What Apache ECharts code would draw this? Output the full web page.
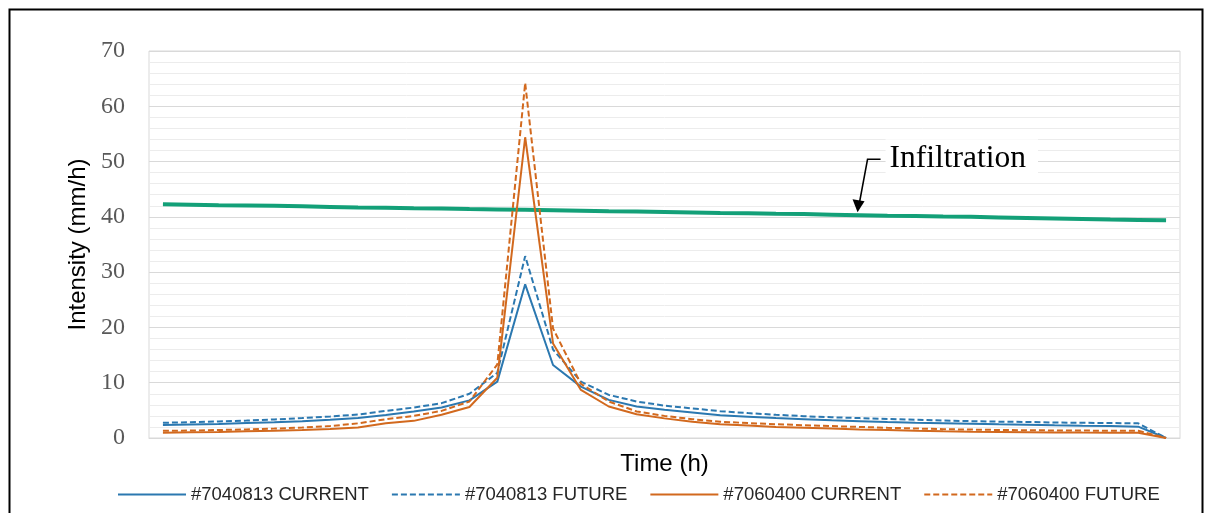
<!DOCTYPE html>
<html>
<head>
<meta charset="utf-8">
<script src="https://cdn.jsdelivr.net/npm/echarts@6/dist/echarts.min.js"></script>
<style>
  html, body { margin: 0; padding: 0; background: #fff; }
  #chart { width: 1209px; height: 513px; }
</style>
</head>
<body>
<div id="chart"></div>
<script>
// time steps (no labels shown on the axis)
const timeSteps = ["0","1","2","3","4","5","6","7","8","9","10","11","12","13","14","15","16","17","18",
  "19","20","21","22","23","24","25","26","27","28","29","30","31","32","33","34","35","36"];

const current7040813 = [2.35, 2.45, 2.55, 2.7, 2.85, 3.05, 3.3, 3.6, 4.15, 4.8, 5.5, 6.8, 10.2, 27.8,
  13.2, 9.3, 6.9, 5.7, 5.1, 4.6, 4.1, 3.85, 3.6, 3.4, 3.2, 3.05, 2.9, 2.78, 2.68, 2.58, 2.48, 2.4,
  2.3, 2.22, 2.15, 2.05, 0];
const future7040813 = [2.75, 2.85, 3.0, 3.15, 3.35, 3.6, 3.9, 4.25, 4.9, 5.5, 6.3, 8.0, 11.8, 32.9,
  16.0, 10.2, 7.8, 6.6, 5.85, 5.35, 4.85, 4.5, 4.2, 3.95, 3.75, 3.6, 3.45, 3.3, 3.15, 3.05, 2.95, 2.9,
  2.8, 2.75, 2.7, 2.65, 0];
const current7060400 = [0.96, 1.05, 1.1, 1.2, 1.3, 1.45, 1.65, 1.9, 2.65, 3.1, 4.2, 5.6, 10.9, 54.4,
  17.1, 8.7, 5.7, 4.3, 3.55, 2.95, 2.5, 2.25, 2.0, 1.85, 1.7, 1.55, 1.45, 1.3, 1.2, 1.12, 1.08, 1.04,
  1.0, 0.98, 0.97, 0.96, 0];
const future7060400 = [1.3, 1.35, 1.45, 1.55, 1.7, 1.9, 2.15, 2.65, 3.4, 4.0, 4.9, 6.6, 13.3, 64.2,
  19.8, 9.8, 6.6, 4.8, 4.0, 3.4, 2.95, 2.7, 2.5, 2.3, 2.15, 2.0, 1.85, 1.72, 1.6, 1.52, 1.45, 1.4,
  1.37, 1.34, 1.32, 1.3, 0];
const infiltration = [42.3, 42.2, 42.1, 42.05, 42.0, 41.9, 41.8, 41.7, 41.65, 41.55, 41.5, 41.4, 41.35,
  41.3, 41.2, 41.1, 41.0, 40.95, 40.9, 40.8, 40.7, 40.65, 40.55, 40.5, 40.4, 40.3, 40.2, 40.15, 40.05,
  40.0, 39.9, 39.8, 39.7, 39.6, 39.5, 39.45, 39.4];

const blue = "#2b78b0";
const orange = "#d2691e";
const green = "#13a078";

const chart = echarts.init(document.getElementById("chart"));

function stormSeries(name, data, color, dashed) {
  return {
    name: name,
    type: "line",
    data: data,
    symbol: "none",
    smooth: false,
    z: 3,
    lineStyle: { color: color, width: 2, type: dashed ? [6, 3] : "solid" },
    itemStyle: { color: color },
  };
}

chart.setOption({
  animation: false,
  grid: {
    left: 149,
    right: 29,
    top: 51,
    bottom: 75,
    show: true,
    borderColor: "#d9d9d9",
    borderWidth: 1,
  },
  legend: {
    data: ["#7040813 CURRENT", "#7040813 FUTURE", "#7060400 CURRENT", "#7060400 FUTURE"],
    left: 112,
    bottom: 4,
    itemWidth: 68,
    itemHeight: 10,
    itemGap: 22,
    itemStyle: { opacity: 0 },
    textStyle: { fontFamily: "Liberation Sans", fontSize: 18.5, color: "#262626" },
  },
  xAxis: {
    type: "category",
    data: timeSteps,
    boundaryGap: true,
    axisLabel: { show: false },
    axisTick: { show: false },
    axisLine: { show: true, lineStyle: { color: "#d9d9d9" } },
    splitLine: { show: false },
    name: "Time (h)",
    nameLocation: "middle",
    nameGap: 14,
    nameTextStyle: { fontFamily: "Liberation Sans", fontSize: 24, color: "#000" },
  },
  yAxis: {
    type: "value",
    min: 0,
    max: 70,
    interval: 10,
    axisLine: { show: false },
    axisTick: { show: false },
    axisLabel: { fontFamily: "Liberation Serif", fontSize: 24, color: "#595959", margin: 24 },
    splitLine: { lineStyle: { color: "#d9d9d9", width: 1.2 } },
    minorTick: { show: false, splitNumber: 5 },
    minorSplitLine: { show: true, lineStyle: { color: "#ececec", width: 1 } },
    name: "Intensity (mm/h)",
    nameLocation: "middle",
    nameGap: 56,
    nameTextStyle: { fontFamily: "Liberation Sans", fontSize: 24, color: "#000" },
  },
  series: [
    {
      name: "Infiltration",
      type: "line",
      data: infiltration,
      symbol: "none",
      z: 2,
      lineStyle: { color: green, width: 4 },
      itemStyle: { color: green },
    },
    stormSeries("#7040813 CURRENT", current7040813, blue, false),
    stormSeries("#7040813 FUTURE", future7040813, blue, true),
    stormSeries("#7060400 CURRENT", current7060400, orange, false),
    stormSeries("#7060400 FUTURE", future7060400, orange, true),
  ],
});

// callout for the infiltration line, anchored on the line itself
const idx = 25;
const tip = chart.convertToPixel({ gridIndex: 0 }, [idx, infiltration[idx]]);
const tipX = tip[0] - 2, tipY = tip[1] - 3;
const topX = tipX + 10, topY = tipY - 53;

chart.setOption({
  graphic: [
    {
      type: "rect",
      left: 7, top: 7,
      shape: { width: 1193, height: 520 },
      style: { fill: "none", stroke: "#000", lineWidth: 2 },
      z: 100,
    },
    {
      type: "polyline",
      shape: { points: [[topX + 13, topY], [topX, topY], [tipX + 2, tipY - 10]] },
      style: { fill: "none", stroke: "#000", lineWidth: 1.6 },
      z: 100,
    },
    {
      type: "polygon",
      shape: { points: [[tipX, tipY], [tipX - 5, tipY - 13], [tipX + 7, tipY - 11]] },
      style: { fill: "#000" },
      z: 100,
    },
    {
      type: "text",
      x: topX + 18, y: topY,
      style: {
        text: "Infiltration",
        font: "31.5px 'Liberation Serif'",
        fill: "#000",
        verticalAlign: "middle",
        backgroundColor: "#fff",
        padding: [4, 12, 4, 4],
      },
      z: 99,
    },
  ],
});
</script>
</body>
</html>
